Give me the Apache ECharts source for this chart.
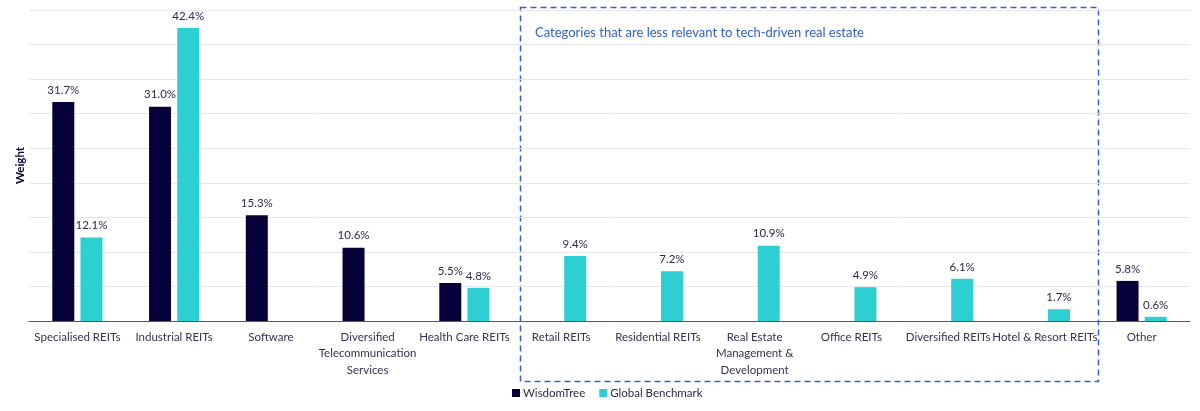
<!DOCTYPE html>
<html>
<head>
<meta charset="utf-8">
<script src="https://cdn.jsdelivr.net/npm/echarts@6/dist/echarts.min.js"></script>
<style>html,body{margin:0;padding:0;background:#fff;}#c{width:1200px;height:411px;}</style>
</head>
<body>
<div id="c"></div>
<script>
const categories = [
  'Specialised REITs', 'Industrial REITs', 'Software', 'Diversified\nTelecommunication\nServices',
  'Health Care REITs', 'Retail REITs', 'Residential REITs', 'Real Estate\nManagement &\nDevelopment',
  'Office REITs', 'Diversified REITs', 'Hotel & Resort REITs', 'Other'
];
const wisdomTree = [31.7, 31.0, 15.3, 10.6, 5.5, null, null, null, null, null, null, 5.8];
const globalBenchmark = [12.1, 42.4, null, null, 4.8, 9.4, 7.2, 10.9, 4.9, 6.1, 1.7, 0.6];
const seriesNames = ['WisdomTree', 'Global Benchmark'];
const annotationText = 'Categories that are less relevant to tech-driven real estate';

const FONT = 'Lato';
const chart = echarts.init(document.getElementById('c'));
const labelCfg = {
  show: true, position: 'top', distance: 6,
  color: '#2b2b4b', fontFamily: FONT, fontSize: 11.5,
  formatter: p => p.value == null ? '' : p.value.toFixed(1) + '%'
};
chart.setOption({
  animation: false,
  textStyle: { fontFamily: FONT },
  grid: { left: 29, right: 10, top: 10, bottom: 90, containLabel: false },
  legend: {
    bottom: 7, left: 507,
    icon: 'rect', itemWidth: 8, itemHeight: 8, itemGap: 14,
    textStyle: { color: '#2b2b4b', fontFamily: FONT, fontSize: 11.5, padding: [0, 0, 0, -2] },
    data: seriesNames
  },
  xAxis: {
    type: 'category', data: categories,
    axisLine: { lineStyle: { color: '#55556f', width: 1 } },
    axisTick: { show: false },
    axisLabel: { interval: 0, color: '#33334f', fontFamily: FONT, fontSize: 11.5, lineHeight: 16.5, margin: 8 }
  },
  yAxis: {
    type: 'value', min: 0, max: 45, interval: 5,
    name: 'Weight', nameLocation: 'middle', nameGap: 3, nameRotate: 90,
    nameTextStyle: { fontWeight: 'bold', color: '#07033a', fontFamily: FONT, fontSize: 11.5 },
    axisLabel: { show: false }, axisTick: { show: false }, axisLine: { show: false },
    splitLine: { lineStyle: { color: '#e6e8ee' } }
  },
  series: [
    { name: seriesNames[0], type: 'bar', data: wisdomTree, barWidth: 22, barGap: '28%',
      itemStyle: { color: '#07033a' }, label: labelCfg },
    { name: seriesNames[1], type: 'bar', data: globalBenchmark, barWidth: 22,
      itemStyle: { color: '#2dcfd3' }, label: labelCfg }
  ],
  graphic: [
    { type: 'rect', left: 518, top: 5, silent: true,
      shape: { width: 578, height: 374 },
      style: { fill: 'none', stroke: '#2f62d0', lineWidth: 1.5, lineDash: [6, 4] } },
    { type: 'text', left: 535, top: 26, silent: true,
      style: { text: annotationText, fill: '#2f5fc8', font: '13px ' + FONT } }
  ]
});
</script>
</body>
</html>
